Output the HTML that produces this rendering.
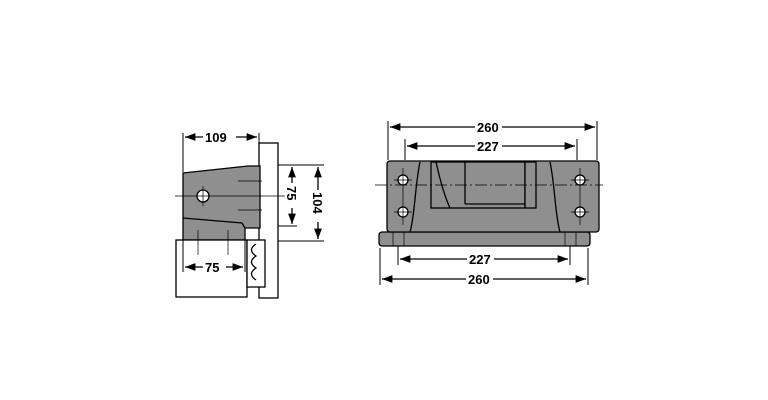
<!DOCTYPE html><html><head><style>body{margin:0;background:#fff}svg{display:block}text{font-family:"Liberation Sans",sans-serif;font-weight:bold;font-size:13px;fill:#000}</style></head><body>
<svg width="768" height="400" viewBox="0 0 768 400">
<defs><marker id="a" markerWidth="8" markerHeight="6" refX="8" refY="3" orient="auto-start-reverse"><path d="M0,0L8,3L0,6z" fill="#000"/></marker></defs>
<g stroke="#000" stroke-width="1.3">
<!-- left view -->
<rect x="259" y="143" width="19" height="155" fill="#fff"/>
<path d="M183,173 L248,166 L260,166 L260,228 L245,228 L245,240 L183,240 Z" fill="#8f8f8f"/>
<path d="M183,218 L242,223 L245,228" fill="none"/>
<rect x="176" y="240" width="71" height="57" fill="#fff"/>
<rect x="247" y="240" width="18" height="47" fill="#fff"/>
<path d="M256,244 c-6,4 -6,8 0,12 c-6,4 -6,8 0,12 c-6,4 -6,8 0,12" fill="none"/>
<circle cx="203" cy="196" r="6" fill="#fff"/>
<g stroke-width="0.7"><line x1="175" y1="196" x2="285" y2="196"/><line x1="203" y1="186" x2="203" y2="206"/><line x1="238" y1="181" x2="262" y2="181"/><line x1="238" y1="210" x2="262" y2="210"/><line x1="198" y1="230" x2="198" y2="255"/><line x1="228" y1="230" x2="228" y2="255"/></g>
<g stroke-width="1"><line x1="183" y1="133" x2="183" y2="172"/><line x1="259" y1="133" x2="259" y2="146"/><line x1="278" y1="165" x2="324" y2="165"/><line x1="278" y1="226" x2="297" y2="226"/><line x1="278" y1="241" x2="324" y2="241"/><line x1="183" y1="240" x2="183" y2="272"/><line x1="245" y1="240" x2="245" y2="272"/></g>
<line x1="185" y1="137" x2="203" y2="137" marker-start="url(#a)"/><line x1="236" y1="137" x2="257" y2="137" marker-end="url(#a)"/>
<line x1="185" y1="267" x2="203" y2="267" marker-start="url(#a)"/><line x1="226" y1="267" x2="243" y2="267" marker-end="url(#a)"/>
<line x1="292" y1="167" x2="292" y2="183" marker-start="url(#a)"/><line x1="292" y1="208" x2="292" y2="224" marker-end="url(#a)"/>
<line x1="318" y1="167" x2="318" y2="190" marker-start="url(#a)"/><line x1="318" y1="222" x2="318" y2="239" marker-end="url(#a)"/>
<!-- right view -->
<rect x="379" y="232" width="211" height="14" rx="3" fill="#8f8f8f"/>
<rect x="387" y="161" width="212" height="71" rx="3" fill="#8f8f8f"/>
<path d="M420,162 C415,185 415,215 410,232 M550,162 C555,185 555,215 560,232" fill="none"/>
<rect x="431" y="162" width="94" height="46" fill="#8f8f8f"/>
<line x1="465" y1="162" x2="465" y2="204"/><line x1="465" y1="204" x2="525" y2="204"/>
<path d="M436,162 C440,180 444,195 450,208" fill="none"/>
<rect x="525" y="162" width="11" height="46" fill="#8f8f8f"/>
<g fill="#fff"><circle cx="403" cy="180" r="5"/><circle cx="403" cy="212" r="5"/><circle cx="580" cy="180" r="5"/><circle cx="580" cy="212" r="5"/></g>
<g stroke-width="0.7"><line x1="375" y1="185" x2="603" y2="185" stroke-dasharray="12,3,2,3"/><line x1="403" y1="168" x2="403" y2="225"/><line x1="580" y1="168" x2="580" y2="225"/><line x1="394" y1="180" x2="412" y2="180"/><line x1="394" y1="212" x2="412" y2="212"/><line x1="571" y1="180" x2="589" y2="180"/><line x1="571" y1="212" x2="589" y2="212"/><line x1="393" y1="232" x2="393" y2="246"/><line x1="404" y1="232" x2="404" y2="246"/><line x1="565" y1="232" x2="565" y2="246"/><line x1="576" y1="232" x2="576" y2="246"/></g>
<g stroke-width="1"><line x1="388" y1="121" x2="388" y2="160"/><line x1="597" y1="121" x2="597" y2="160"/><line x1="405" y1="139" x2="405" y2="160"/><line x1="577" y1="139" x2="577" y2="160"/><line x1="398" y1="246" x2="398" y2="265"/><line x1="570" y1="246" x2="570" y2="265"/><line x1="380" y1="248" x2="380" y2="285"/><line x1="588" y1="248" x2="588" y2="285"/></g>
<line x1="390" y1="127" x2="475" y2="127" marker-start="url(#a)"/><line x1="502" y1="127" x2="595" y2="127" marker-end="url(#a)"/>
<line x1="407" y1="146" x2="475" y2="146" marker-start="url(#a)"/><line x1="502" y1="146" x2="575" y2="146" marker-end="url(#a)"/>
<line x1="400" y1="259" x2="467" y2="259" marker-start="url(#a)"/><line x1="494" y1="259" x2="568" y2="259" marker-end="url(#a)"/>
<line x1="382" y1="279" x2="466" y2="279" marker-start="url(#a)"/><line x1="493" y1="279" x2="586" y2="279" marker-end="url(#a)"/>
</g>
<text x="205" y="142">109</text>
<text x="205" y="272">75</text>
<text x="477" y="132">260</text>
<text x="477" y="151">227</text>
<text x="469" y="264">227</text>
<text x="468" y="284">260</text>
<text transform="translate(287,186) rotate(90)">75</text>
<text transform="translate(313,192) rotate(90)">104</text>
</svg></body></html>
